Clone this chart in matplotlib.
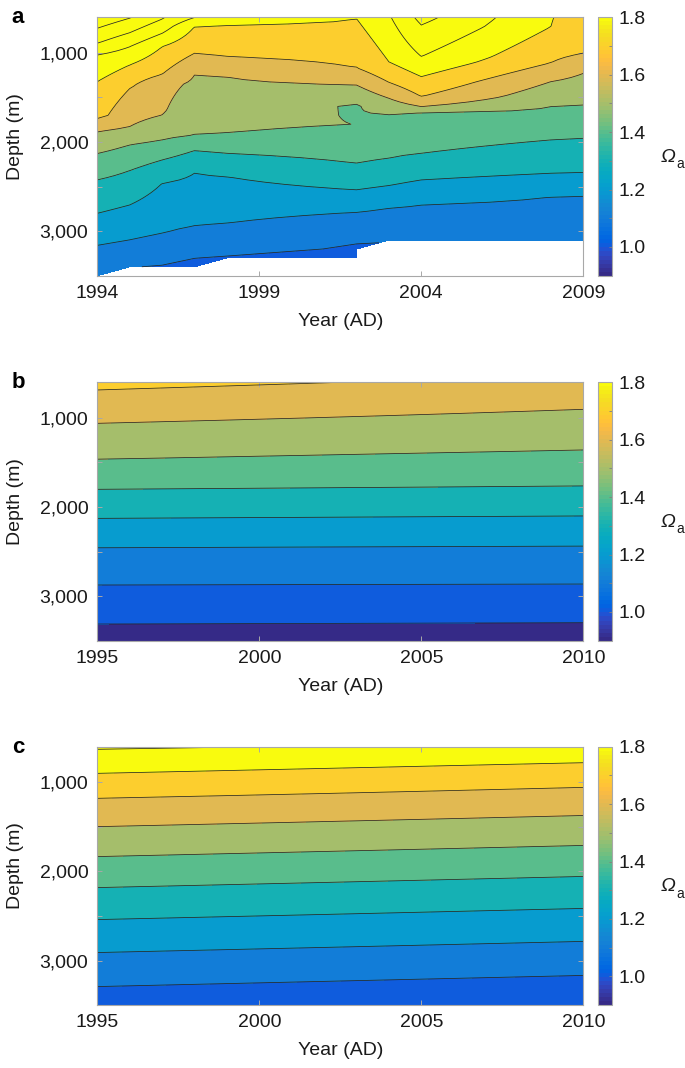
import numpy as np
import matplotlib
matplotlib.use('Agg')
import matplotlib.pyplot as plt
from matplotlib.colors import ListedColormap, Normalize
from matplotlib.cm import ScalarMappable
from matplotlib.ticker import FuncFormatter, MultipleLocator

plt.rcParams['font.family'] = ['Liberation Sans', 'DejaVu Sans']

nan = np.nan

# MATLAB parula (64 colours)
PARULA = [
    [0.2081, 0.1663, 0.5292], [0.2116, 0.1898, 0.5777], [0.2123, 0.2138, 0.6270], [0.2081, 0.2386, 0.6771],
    [0.1959, 0.2645, 0.7279], [0.1707, 0.2919, 0.7792], [0.1253, 0.3242, 0.8303], [0.0591, 0.3598, 0.8683],
    [0.0117, 0.3875, 0.8820], [0.0060, 0.4086, 0.8828], [0.0165, 0.4266, 0.8786], [0.0329, 0.4430, 0.8720],
    [0.0498, 0.4586, 0.8641], [0.0629, 0.4737, 0.8554], [0.0723, 0.4887, 0.8467], [0.0779, 0.5040, 0.8384],
    [0.0793, 0.5200, 0.8312], [0.0749, 0.5375, 0.8263], [0.0641, 0.5570, 0.8240], [0.0488, 0.5772, 0.8228],
    [0.0343, 0.5966, 0.8199], [0.0265, 0.6137, 0.8135], [0.0239, 0.6287, 0.8038], [0.0231, 0.6418, 0.7913],
    [0.0228, 0.6535, 0.7768], [0.0267, 0.6642, 0.7607], [0.0384, 0.6743, 0.7436], [0.0590, 0.6838, 0.7254],
    [0.0843, 0.6928, 0.7062], [0.1133, 0.7015, 0.6859], [0.1453, 0.7098, 0.6646], [0.1801, 0.7177, 0.6424],
    [0.2178, 0.7250, 0.6193], [0.2586, 0.7317, 0.5954], [0.3022, 0.7376, 0.5712], [0.3482, 0.7424, 0.5473],
    [0.3953, 0.7459, 0.5244], [0.4420, 0.7481, 0.5033], [0.4871, 0.7491, 0.4840], [0.5300, 0.7491, 0.4661],
    [0.5709, 0.7485, 0.4494], [0.6099, 0.7473, 0.4337], [0.6473, 0.7456, 0.4188], [0.6834, 0.7435, 0.4044],
    [0.7184, 0.7411, 0.3905], [0.7525, 0.7384, 0.3768], [0.7858, 0.7356, 0.3633], [0.8185, 0.7327, 0.3498],
    [0.8507, 0.7299, 0.3360], [0.8824, 0.7274, 0.3217], [0.9139, 0.7258, 0.3063], [0.9450, 0.7261, 0.2886],
    [0.9739, 0.7314, 0.2666], [0.9938, 0.7455, 0.2403], [0.9990, 0.7653, 0.2164], [0.9955, 0.7861, 0.1967],
    [0.9880, 0.8066, 0.1794], [0.9789, 0.8271, 0.1633], [0.9697, 0.8481, 0.1475], [0.9626, 0.8705, 0.1309],
    [0.9589, 0.8949, 0.1132], [0.9598, 0.9218, 0.0948], [0.9661, 0.9514, 0.0755], [0.9763, 0.9831, 0.0538],
]

levels = np.round(np.arange(0.9, 2.25, 0.1), 2)

# ---- panel a : depth (m) of each omega isoline per year
years_a = [1994, 1995, 1996, 1997, 1998, 2002, 2003, 2004, 2008, 2009]
a_21 = [723, 610, nan, nan, nan, nan, nan, nan, nan, nan]
a_20 = [892, 773, 620, nan, nan, nan, nan, 686, nan, nan]
a_19 = [1023, 930, 780, nan, nan, nan, nan, 1041, nan, nan]
a_18 = [1322, 1135, 930, 705, 687, 615, 1100, 1266, 705, nan]
a_17 = [1733, 1400, 1240, 1004, 1040, 1165, 1330, 1490, 1110, 1004]
a_16 = [1884, 1826, 1696, 1247, 1270, 1360, 1509, 1602, 1322, 1228]
a_15 = [2129, 2032, 1976, 1920, 1897, 1576, 1688, 1670, 1602, 1584]
a_14 = [2425, 2320, 2201, 2096, 2126, 2238, 2182, 2126, 1976, 1958]
a_13 = [2800, 2706, 2463, 2350, 2388, 2537, 2489, 2425, 2350, 2343]
a_12 = [3158, 3098, 3031, 2941, 2911, 2788, 2743, 2706, 2616, 2605]
a_11 = [nan, nan, 3379, 3304, 3270, 3117, nan, nan, nan, nan]
top_a = [2.17, 2.106, 2.01, 1.902, 1.87, 1.81, 1.89, 2.03, 1.805, 1.75]      # omega at 600 m
bottom_depth_a = [3500, 3400, 3400, 3400, 3300, 3300, 3100, 3100, 3100, 3100]
bottom_a = [1.11, 1.103, 1.095, 1.08, 1.095, 1.085, 1.103, 1.11, 1.12, 1.12]
# extra profile points between isolines (notch 1994-95, wall 1996, tongue 2002)
extra_year = [1994, 1996, 1996, 2002, 2002, 2002]
extra_depth = [1700, 1350, 1640, 1600, 1700, 1800]
extra_omega = [1.735, 1.63, 1.61, 1.492, 1.495, 1.4993]

# ---- panel b : isoline depths at start / end year (levels 1.7 ... 1.0)
years_b = [1995, 2010]
levels_b = [1.7, 1.6, 1.5, 1.4, 1.3, 1.2, 1.1, 1.0]
b_1995 = [686, 1060, 1464, 1801, 2127, 2456, 2875, 3313]
b_2010 = [510, 903, 1360, 1764, 2100, 2437, 2864, 3298]
top_b = [1.75, 1.703]        # omega at 500 m
bottom_b = [0.957, 0.955]    # omega at 3500 m

# ---- panel c : isoline depths at start / end year (levels 1.9 ... 1.1)
years_c = [1995, 2010]
levels_c = [1.9, 1.8, 1.7, 1.6, 1.5, 1.4, 1.3, 1.2, 1.1]
c_1995 = [629, 899, 1179, 1497, 1833, 2181, 2540, 2910, 3292]
c_2010 = [550, 779, 1056, 1372, 1708, 2056, 2415, 2785, 3167]
top_c = [1.95, 1.93]
bottom_c = [1.046, 1.013]


def column(nodes, knots_d, knots_v, bottom_depth):
    d = np.asarray(knots_d, float)
    v = np.asarray(knots_v, float)
    ok = ~np.isnan(d)
    d, v = d[ok], v[ok]
    o = np.argsort(d)
    col = np.interp(nodes, d[o], v[o])
    col[nodes > bottom_depth + 1e-6] = np.nan
    return col


# grid for panel a: fine in the upper part, 100 m steps near the bottom
nodes_a = np.r_[np.arange(600, 3000, 25), np.arange(3000, 3501, 100)].astype(float)
iso_a = [a_21, a_20, a_19, a_18, a_17, a_16, a_15, a_14, a_13, a_12, a_11]
lev_a = [2.1, 2.0, 1.9, 1.8, 1.7, 1.6, 1.5, 1.4, 1.3, 1.2, 1.1]
Za = np.zeros((len(nodes_a), len(years_a)))
for j, yr in enumerate(years_a):
    kd = [600] + [arr[j] for arr in iso_a] + [bottom_depth_a[j]]
    kv = [top_a[j]] + lev_a + [bottom_a[j]]
    for ey, ed, ev in zip(extra_year, extra_depth, extra_omega):
        if ey == yr:
            kd.append(ed)
            kv.append(ev)
    Za[:, j] = column(nodes_a, kd, kv, bottom_depth_a[j])
Za = np.ma.masked_invalid(Za)

nodes_bc = np.arange(500, 3501, 25).astype(float)
Zb = np.column_stack([
    column(nodes_bc, [500] + b_1995 + [3500], [top_b[0]] + levels_b + [bottom_b[0]], 3500),
    column(nodes_bc, [500] + b_2010 + [3500], [top_b[1]] + levels_b + [bottom_b[1]], 3500)])
Zc = np.column_stack([
    column(nodes_bc, [500] + c_1995 + [3500], [top_c[0]] + levels_c + [bottom_c[0]], 3500),
    column(nodes_bc, [500] + c_2010 + [3500], [top_c[1]] + levels_c + [bottom_c[1]], 3500)])


def band_color(lev):
    idx = int(np.clip(np.floor((lev - 0.9) / 0.9 * 64 + 1e-9), 0, 63))
    return PARULA[idx]


band_colors = [band_color(l) for l in levels[:-1]]
cmap = ListedColormap(PARULA)
norm = Normalize(0.9, 1.8)

W, H = 685, 1068
fig = plt.figure(figsize=(W / 100, H / 100), dpi=100)

frame = '#a8a8a8'
txt = '#1a1a1a'
panels = [
    ('a', years_a, nodes_a, Za, [1994, 1999, 2004, 2009], 17.3),
    ('b', years_b, nodes_bc, Zb, [1995, 2000, 2005, 2010], 382.3),
    ('c', years_c, nodes_bc, Zc, [1995, 2000, 2005, 2010], 746.7),
]
ax_h = 258.4
for letter, yrs, nodes, Z, xt, top_px in panels:
    ax = fig.add_axes([97.3 / W, 1 - (top_px + ax_h) / H, 486 / W, ax_h / H])
    ax.contourf(yrs, nodes, Z, levels=levels, colors=band_colors)
    ax.contour(yrs, nodes, Z, levels=levels[1:-1], colors='#262626', linewidths=0.55)
    ax.set_xlim(xt[0], xt[-1])
    ax.set_ylim(3500, 600)
    ax.set_xticks(xt)
    ax.set_yticks([1000, 2000, 3000])
    ax.yaxis.set_minor_locator(MultipleLocator(500))
    ax.yaxis.set_major_formatter(FuncFormatter(lambda v, p: '{:,.0f}'.format(v)))
    ax.tick_params(which='both', direction='in', top=True, right=True, length=3.5,
                   width=0.7, color=frame, labelsize=14, labelcolor=txt, pad=6.5)
    for s in ax.spines.values():
        s.set_color(frame)
        s.set_linewidth(0.8)
    ax.set_xlabel('Year (AD)', fontsize=14, color=txt)
    ax.xaxis.set_label_coords(0.5, -0.144)
    ax.set_ylabel('Depth (m)', fontsize=14, color=txt)
    ax.yaxis.set_label_coords(-0.151, 0.54)
    fig.text(18 / W, 1 - (top_px + 0.5) / H, letter, fontsize=16, fontweight='bold',
             ha='center', va='center')

    cax = fig.add_axes([598.3 / W, 1 - (top_px + ax_h) / H, 13.4 / W, ax_h / H])
    cb = fig.colorbar(ScalarMappable(norm=norm, cmap=cmap), cax=cax,
                      ticks=[1.0, 1.2, 1.4, 1.6, 1.8], format='%.1f')
    cax.yaxis.set_minor_locator(MultipleLocator(0.1))
    cax.tick_params(which='both', direction='in', length=2.5, width=0.6, color='#808080',
                    labelsize=14, labelcolor=txt, pad=5)
    cb.outline.set_edgecolor(frame)
    cb.outline.set_linewidth(0.8)
    # colorbar title: italic Omega with upright subscript a
    fig.text(661 / W, 1 - (top_px + 140) / H, '\u03a9', fontsize=14, style='italic',
             ha='left', va='center', color=txt)
    fig.text(676.5 / W, 1 - (top_px + 147) / H, 'a', fontsize=10,
             ha='left', va='center', color=txt)

fig.savefig('out.png', dpi=100)
